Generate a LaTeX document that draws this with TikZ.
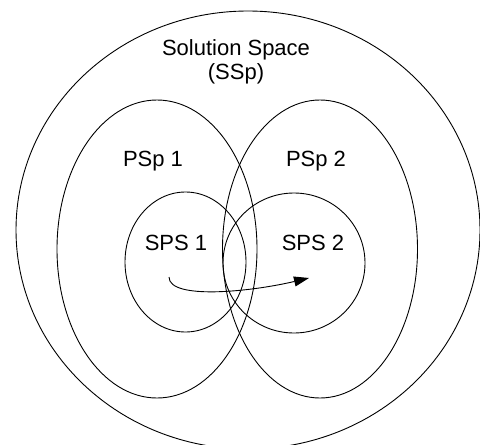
\documentclass[tikz,border=0pt]{standalone}
\usepackage{fontspec}
\setmainfont{Liberation Sans}
\usetikzlibrary{shapes.geometric,arrows.meta}

\begin{document}
\begin{tikzpicture}[
    x=1pt,y=-1pt,
    space/.style={ellipse,draw,line width=0.9pt,inner sep=0pt},
    lbl/.style={font=\fontsize{22}{24}\selectfont,align=center,inner sep=0pt},
    arrow/.style={-{Triangle[length=15pt,width=10pt]},line width=0.9pt}
    ]
    \useasboundingbox (0,0) rectangle (480,445);
    \clip (0,0) rectangle (480,445);

    \node[space,minimum width=464pt,minimum height=438pt] (ssp) at (248,230) {};

    \node[space,minimum width=200pt,minimum height=298pt] (psp1) at (157,249) {};
    \node[space,minimum width=195pt,minimum height=298pt] (psp2) at (320,249) {};

    \node[space,minimum width=121pt,minimum height=140pt] (sps1) at (185.5,262) {};
    \node[space,minimum width=142pt,minimum height=140pt] (sps2) at (294,263) {};

    \node[lbl,anchor=north] (ssptext) at (236,39) {Solution Space\\(SSp)};
    \node[lbl,anchor=base] (psp1text) at (153,166) {PSp 1};
    \node[lbl,anchor=base] (psp2text) at (316,166) {PSp 2};
    \node[lbl,anchor=base] (sps1text) at (176,250) {SPS 1};
    \node[lbl,anchor=base] (sps2text) at (313,250) {SPS 2};

    \coordinate (from) at (169,277);
    \coordinate (to) at (309,278);
    \draw[arrow] (from) .. controls (169,300) and (250,292) .. (to);

\end{tikzpicture}
\end{document}
